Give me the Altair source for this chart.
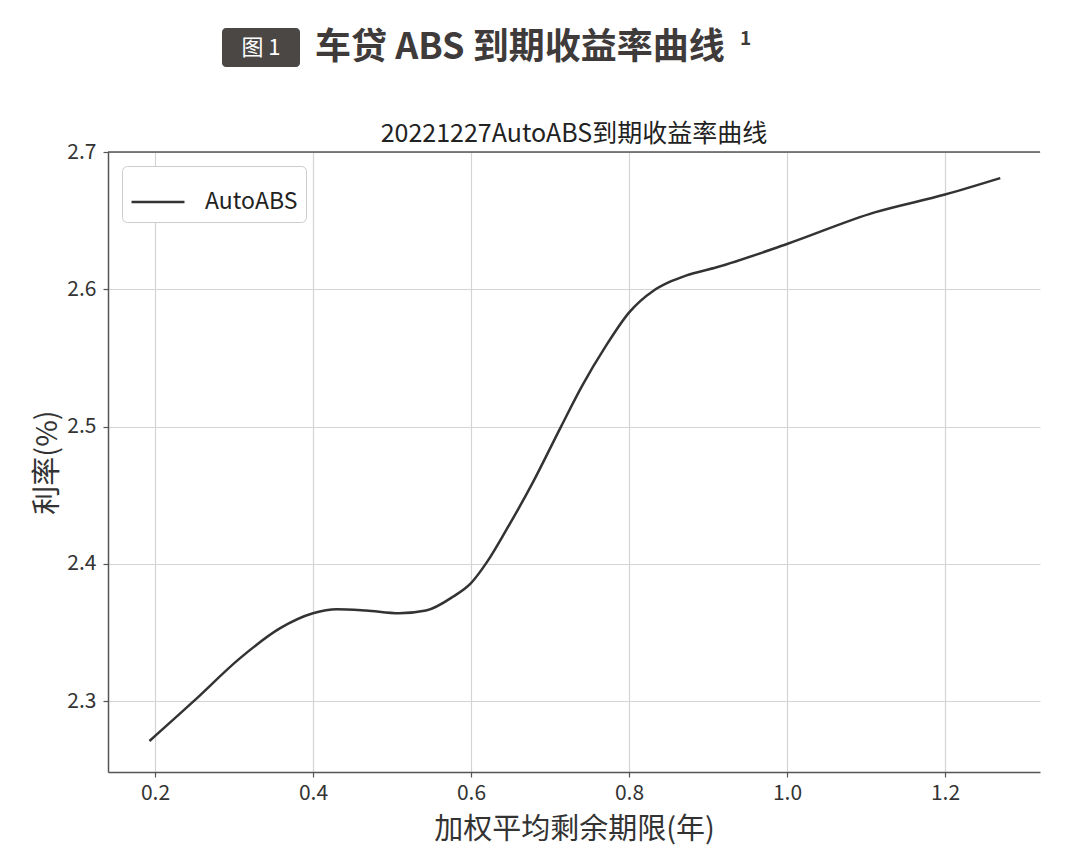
import altair as alt
import pandas as pd

# Data
maturity = [0.193, 0.249, 0.307, 0.358, 0.400, 0.430, 0.467, 0.509, 0.543, 0.577,
            0.600, 0.621, 0.644, 0.678, 0.714, 0.741, 0.770, 0.800, 0.831, 0.850,
            0.872, 0.911, 1.000, 1.111, 1.200, 1.270]
yield_pct = [2.271, 2.300, 2.331, 2.353, 2.364, 2.367, 2.366, 2.364, 2.366, 2.376,
             2.386, 2.402, 2.424, 2.459, 2.500, 2.530, 2.558, 2.583, 2.599, 2.605,
             2.610, 2.616, 2.633, 2.656, 2.669, 2.681]
series = ["AutoABS"] * len(maturity)

x_ticks = [0.2, 0.4, 0.6, 0.8, 1.0, 1.2]
y_ticks = [2.3, 2.4, 2.5, 2.6, 2.7]

chart_title = ["20221227AutoABS到期收益率曲线"]
header_badge = ["图 1"]
header_title = ["车贷 ABS 到期收益率曲线"]
header_note = ["1"]
x_title = "加权平均剩余期限(年)"
y_title = "利率(%)"

df = pd.DataFrame({"x": maturity, "y": yield_pct, "s": series})

FONT = "Noto Sans CJK SC"
W, H = 932, 620

line = alt.Chart(df).mark_line(strokeWidth=2.5, interpolate="monotone").encode(
    x=alt.X("x:Q", title=x_title,
            scale=alt.Scale(domain=[0.1405, 1.3203], nice=False, zero=False),
            axis=alt.Axis(values=x_ticks, format=".1f", labelFontSize=21, titleFontSize=29,
                          labelPadding=5, titlePadding=12, tickSize=5)),
    y=alt.Y("y:Q", title=y_title,
            scale=alt.Scale(domain=[2.2484, 2.7], nice=False, zero=False),
            axis=alt.Axis(values=y_ticks, format=".1f", labelFontSize=21, titleFontSize=29,
                          labelPadding=7, titlePadding=4, tickSize=5)),
    color=alt.Color("s:N", scale=alt.Scale(range=["#333333"]),
                    legend=alt.Legend(title=None, orient="top-left", offset=14,
                                      padding=8, cornerRadius=5, strokeColor="#cccccc",
                                      fillColor="white", symbolType="stroke",
                                      symbolSize=2800, symbolStrokeWidth=2.5,
                                      labelFontSize=23, labelOffset=19, labelFont=FONT,
                                      labelColor="#222222")),
)

top_spine = alt.Chart(pd.DataFrame({"a": [0]})).mark_rule(color="#555555", strokeWidth=1.5).encode(
    x=alt.value(0), x2=alt.value(W), y=alt.value(0))

title_text = alt.Chart(pd.DataFrame({"t": chart_title})).mark_text(
    font=FONT, fontSize=25, color="#222222", align="center", baseline="alphabetic").encode(
    x=alt.value(W / 2), y=alt.value(-10), text="t:N")

badge = alt.Chart(pd.DataFrame({"t": header_badge})).mark_rect(
    color="#4b4745", cornerRadius=4).encode(
    x=alt.value(114), x2=alt.value(192), y=alt.value(-124), y2=alt.value(-85))

badge_text = alt.Chart(pd.DataFrame({"t": header_badge})).mark_text(
    font=FONT, fontSize=22, color="white", align="center", baseline="middle").encode(
    x=alt.value(153), y=alt.value(-104), text="t:N")

head_text = alt.Chart(pd.DataFrame({"t": header_title})).mark_text(
    font=FONT, fontSize=36, fontWeight="bold", color="#3f3b3a", align="left",
    baseline="middle").encode(x=alt.value(207), y=alt.value(-104), text="t:N")

note_text = alt.Chart(pd.DataFrame({"t": header_note})).mark_text(
    font=FONT, fontSize=19, fontWeight="bold", color="#3f3b3a", align="left",
    baseline="middle").encode(x=alt.value(632), y=alt.value(-113), text="t:N")

chart = alt.layer(line, top_spine, title_text, badge, badge_text, head_text, note_text).properties(
    width=W, height=H,
    autosize=alt.AutoSizeParams(type="none"),
    padding={"left": 100, "top": 144, "right": 32, "bottom": 83},
).configure_view(stroke=None).configure_axis(
    labelFont=FONT, titleFont=FONT, labelColor="#333333", titleColor="#333333",
    titleFontWeight="normal", domainColor="#555555", domainWidth=1.5,
    tickColor="#555555", tickWidth=1.2, gridColor="#d4d4d4", gridWidth=1.2,
)

chart.save("out.html", embed_options={"renderer": "svg", "actions": False})
